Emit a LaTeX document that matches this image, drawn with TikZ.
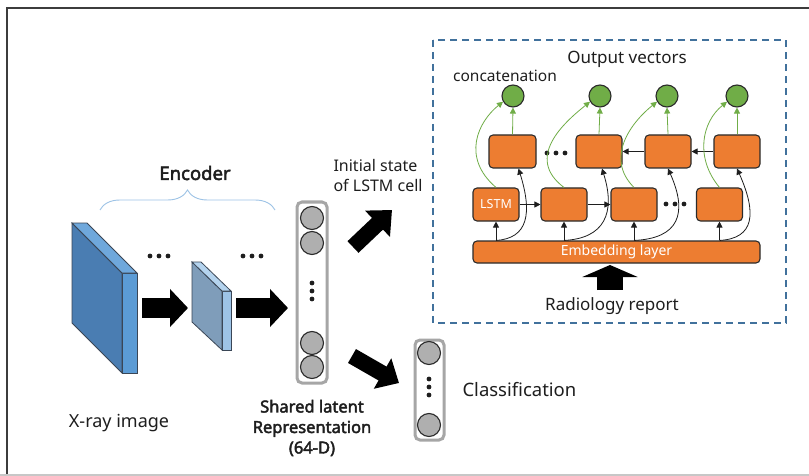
\documentclass[tikz,border=0pt]{standalone}
\usepackage{fontspec}
\setmainfont{Noto Sans}[BoldFont={Noto Sans},BoldFeatures={FakeBold=2.5}]
\usetikzlibrary{arrows.meta,decorations.pathreplacing}
\definecolor{Text}{HTML}{1E1E1E}
\definecolor{Edge}{HTML}{2B2B2B}
\definecolor{Orange}{HTML}{ED7D31}
\definecolor{Leaf}{HTML}{70AD47}
\definecolor{Unit}{HTML}{AFAFAF}
\definecolor{VecLine}{HTML}{A6A6A6}
\definecolor{DashBlue}{HTML}{41719C}
\definecolor{BraceBlue}{HTML}{9DC3E6}
\definecolor{SlabEdge}{HTML}{3A4656}
\definecolor{BigFront}{HTML}{4A7DB2}
\definecolor{BigSide}{HTML}{5B9BD5}
\definecolor{BigTop}{HTML}{6FA8DC}
\definecolor{SmallFront}{HTML}{7F9DBA}
\definecolor{SmallSide}{HTML}{9DC3E6}
\definecolor{SmallTop}{HTML}{B4D3EE}
\definecolor{Frame}{HTML}{3C3C3C}
\newcommand{\rowdots}[2]{\foreach \d in {-9,0,9} \fill[Text] ({#1+\d},#2) circle (2.4pt);}
\newcommand{\coldots}[2]{\foreach \d in {-8,0,8} \fill[Text] (#1,{#2+\d}) circle (2.4pt);}

\begin{document}
\begin{tikzpicture}[x=1pt,y=-1pt,every node/.style={text=Text},lstm/.style={draw=Edge,line width=1.1pt,fill=Orange,rounded corners=4pt,minimum width=46pt,minimum height=33pt,inner sep=0pt,text=white,font=\fontsize{12.5}{14}\selectfont},outv/.style={circle,draw=Edge,line width=1.1pt,fill=Leaf,minimum size=22pt,inner sep=0pt},unit/.style={circle,draw=Edge,line width=1.1pt,fill=Unit,minimum size=23pt,inner sep=0pt},vecbox/.style={draw=VecLine,line width=3pt,rounded corners=5pt,inner sep=0pt},flow/.style={draw=Text,line width=0.8pt,-{Triangle[length=6pt,width=6pt]}},greenflow/.style={draw=Leaf,line width=0.8pt,-{Triangle[length=6pt,width=6pt]}},fat/.style={draw=black}]
\useasboundingbox (0,0) rectangle (809,476);
\fill[white] (0,0) rectangle (809,476);
\draw[Frame,line width=2pt] (7,475) -- (7,8) -- (809,8);
\draw[black!22,line width=1.5pt] (0,475) -- (809,475);
% encoder
\node[font=\fontsize{18.5}{22}\selectfont\bfseries] (enc) at (195,173) {Encoder};
\coordinate (bl) at (100,210);\coordinate (br) at (275,210);
\draw[BraceBlue,line width=0.9pt,decorate,decoration={brace,amplitude=20pt}] (bl) -- (br);
\filldraw[draw=SlabEdge,fill=BigFront,line width=0.8pt] (72,223) -- (122,273) -- (122,373) -- (72,323) -- cycle;
\filldraw[draw=SlabEdge,fill=BigSide,line width=0.8pt] (122,273) -- (137,273) -- (137,373) -- (122,373) -- cycle;
\filldraw[draw=SlabEdge,fill=BigTop,line width=0.8pt] (72,223) -- (87,223) -- (137,273) -- (122,273) -- cycle;
\filldraw[draw=SlabEdge,fill=SmallFront,line width=0.8pt] (192,262) -- (222,291) -- (222,350) -- (192,322) -- cycle;
\filldraw[draw=SlabEdge,fill=SmallSide,line width=0.8pt] (222,291) -- (231,291) -- (231,350) -- (222,350) -- cycle;
\filldraw[draw=SlabEdge,fill=SmallTop,line width=0.8pt] (192,262) -- (201,262) -- (231,291) -- (222,291) -- cycle;
\rowdots{159}{256}\rowdots{252}{256}
\coordinate (a1s) at (142,308);\coordinate (a1e) at (188,308);\coordinate (a2s) at (236,308);\coordinate (a2e) at (288,308);
\draw[fat,line width=20pt,-{Triangle[length=18pt,width=37pt]}] (a1s) -- (a1e);
\draw[fat,line width=20pt,-{Triangle[length=18pt,width=37pt]}] (a2s) -- (a2e);
\node[font=\fontsize{18}{22}\selectfont] (xray) at (119,423) {X-ray image};
% shared latent vector
\node[vecbox,minimum width=30pt,minimum height=181pt] (latent) at (312,292.5) {};
\node[unit] (l1) at (312,218) {};\node[unit] (l2) at (312,243) {};\node[unit] (l3) at (312,343) {};\node[unit] (l4) at (312,367) {};
\coldots{312}{291}
\node[font=\fontsize{16.5}{20.5}\selectfont\bfseries,align=center] (shared) at (312,428) {Shared latent\\Representation\\(64-D)};
\node[font=\fontsize{16}{20}\selectfont,align=left,anchor=west] (init) at (330,175) {Initial state\\of LSTM cell};
\coordinate (d1s) at (353,247);\coordinate (d1e) at (392,210);\coordinate (d2s) at (352,356);\coordinate (d2e) at (399,383);
\draw[fat,line width=16pt,-{Triangle[length=20pt,width=35pt]}] (d1s) -- (d1e);
\draw[fat,line width=16pt,-{Triangle[length=19pt,width=34pt]}] (d2s) -- (d2e);
% classification vector
\node[vecbox,minimum width=29pt,minimum height=100pt] (clsvec) at (429.5,390) {};
\node[unit] (c1) at (429,353) {};\node[unit] (c2) at (429,425) {};
\coldots{429}{387}
\node[font=\fontsize{18.5}{22}\selectfont,anchor=west] (cls) at (459,390) {Classification};
% decoder
\draw[DashBlue,line width=1.2pt,dash pattern=on 7pt off 5pt] (433,40) rectangle (786,323);
\node[font=\fontsize{17}{20}\selectfont] (outlbl) at (627,59) {Output vectors};
\node[font=\fontsize{15.5}{18}\selectfont] (concat) at (505,76) {concatenation};
\node[outv] (g1) at (513,96) {};\node[outv] (g2) at (600,96) {};\node[outv] (g3) at (667,96) {};\node[outv] (g4) at (737,96) {};
\node[lstm,minimum width=47pt] (up1) at (512.5,151.5) {};\node[lstm] (up2) at (599,151.5) {};\node[lstm] (up3) at (668,151.5) {};\node[lstm] (up4) at (737,151.5) {};
\node[lstm] (lo1) at (496,204.5) {LSTM};\node[lstm] (lo2) at (564,204.5) {};\node[lstm] (lo3) at (634,204.5) {};\node[lstm] (lo4) at (719.5,204.5) {};
\node[lstm,minimum width=287pt,minimum height=22pt,font=\fontsize{14}{16}\selectfont] (emb) at (616.5,252) {Embedding layer};
\rowdots{556}{153}\rowdots{675}{204}
\draw[flow] (up4.west) -- (up3.east);\draw[flow] (up3.west) -- (up2.east);
\draw[flow] (lo1.east) -- (lo2.west);\draw[flow] (lo2.east) -- (lo3.west);
\draw[flow] (lo1.south|-emb.north) -- (lo1.south);\draw[flow] (lo2.south|-emb.north) -- (lo2.south);\draw[flow] (lo3.south|-emb.north) -- (lo3.south);\draw[flow] (lo4.south|-emb.north) -- (lo4.south);
\draw[flow] (lo1.south|-emb.north) .. controls +(32,-2) and +(14,45) .. ([xshift=6pt]up1.south);
\draw[flow] (lo2.south|-emb.north) .. controls +(40,-2) and +(14,45) .. ([xshift=3pt]up2.south);
\draw[flow] (lo3.south|-emb.north) .. controls +(45,-2) and +(20,45) .. (up3.south);
\draw[flow] (lo4.south|-emb.north) .. controls +(35,-2) and +(20,45) .. (up4.south);
\draw[greenflow] (up1.north) -- (g1.south);\draw[greenflow] (up2.north) -- (g2.south);\draw[greenflow] (up3.north) -- (g3.south);\draw[greenflow] (up4.north) -- (g4.south);
\draw[greenflow] (lo1.north) .. controls +(-35,-30) and +(-25,20) .. (g1.210);
\draw[greenflow] (lo2.north) .. controls +(-40,-30) and +(-25,20) .. (g2.210);
\draw[greenflow] (lo3.north) .. controls +(-30,-30) and +(-25,20) .. (g3.210);
\draw[greenflow] (lo4.north) .. controls +(-25,-30) and +(-25,20) .. (g4.210);
\coordinate (rs) at (610,290);\coordinate (re) at (610,265);
\draw[fat,line width=26pt,-{Triangle[length=12pt,width=55pt]}] (rs) -- (re);
\node[font=\fontsize{17}{20}\selectfont] (report) at (612,306) {Radiology report};
\end{tikzpicture}
\end{document}
